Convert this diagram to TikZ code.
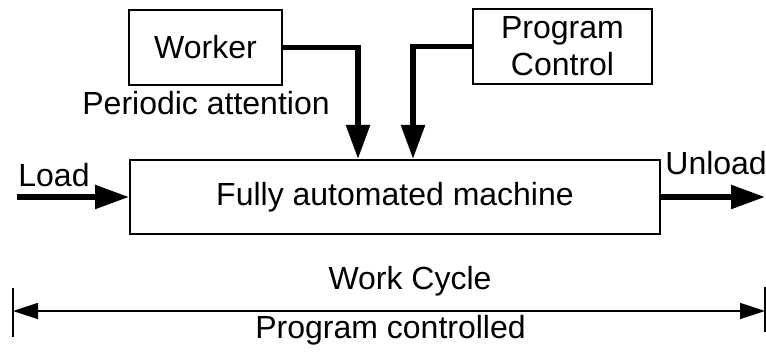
\documentclass[tikz,border=0pt]{standalone}
\usepackage{fontspec}
\setmainfont{Liberation Sans}
\usetikzlibrary{positioning, arrows.meta}

\begin{document}
\begin{tikzpicture}[
    x=0.5pt, y=-0.5pt,
    box/.style={draw, line width=1pt, inner sep=0pt, align=center,
                font=\fontsize{16}{18.5}\selectfont},
    lbl/.style={inner sep=0pt, font=\fontsize{16}{18.5}\selectfont},
    flow/.style={line width=2.75pt, -{Triangle[length=17pt, width=11.5pt]}},
    dim/.style={line width=0.8pt, {Triangle[length=12.5pt, width=8pt]}-{Triangle[length=12.5pt, width=8pt]}},
]
\useasboundingbox (0,0) rectangle (766,356);

% === BOXES ===
\node[box, minimum width=265pt, minimum height=37pt] (machine) at (395,197)
    {Fully automated machine};
\node[box, minimum width=76.5pt, minimum height=37.5pt] (worker) at (205.5,47.5)
    {Worker};
\node[box, minimum width=89.5pt, minimum height=37.5pt] (prog) at (562.5,46.5)
    {Program\\Control};

% === INPUTS ===
\draw[flow] (worker.east) -| ([xshift=-18.5pt]machine.north);
\draw[flow] (prog.west) -| ([xshift=9pt]machine.north);
\node[lbl, anchor=base west] (attn) at (82,115) {Periodic attention};

% === MATERIAL FLOW ===
\coordinate (loadin) at (17,197);
\coordinate (unloadout) at (765,197);
\draw[flow] (loadin) -- (machine.west);
\draw[flow] (machine.east) -- (unloadout);
\node[lbl, anchor=base west] (load) at (18,187) {Load};
\node[lbl, anchor=base west] (unload) at (665,175) {Unload};

% === CYCLE ===
\coordinate (cycL) at (13,311);
\coordinate (cycR) at (765,311);
\draw[dim] (cycL) -- (cycR);
\draw[line width=0.8pt] ([yshift=11.5pt]cycL) -- ([yshift=-13pt]cycL);
\draw[line width=0.8pt] ([yshift=12pt]cycR) -- ([yshift=-10.5pt]cycR);
\node[lbl, anchor=base] (cycle) at (410,290) {Work Cycle};
\node[lbl, anchor=base west] (ctrl) at (255,339) {Program controlled};

\end{tikzpicture}
\end{document}
